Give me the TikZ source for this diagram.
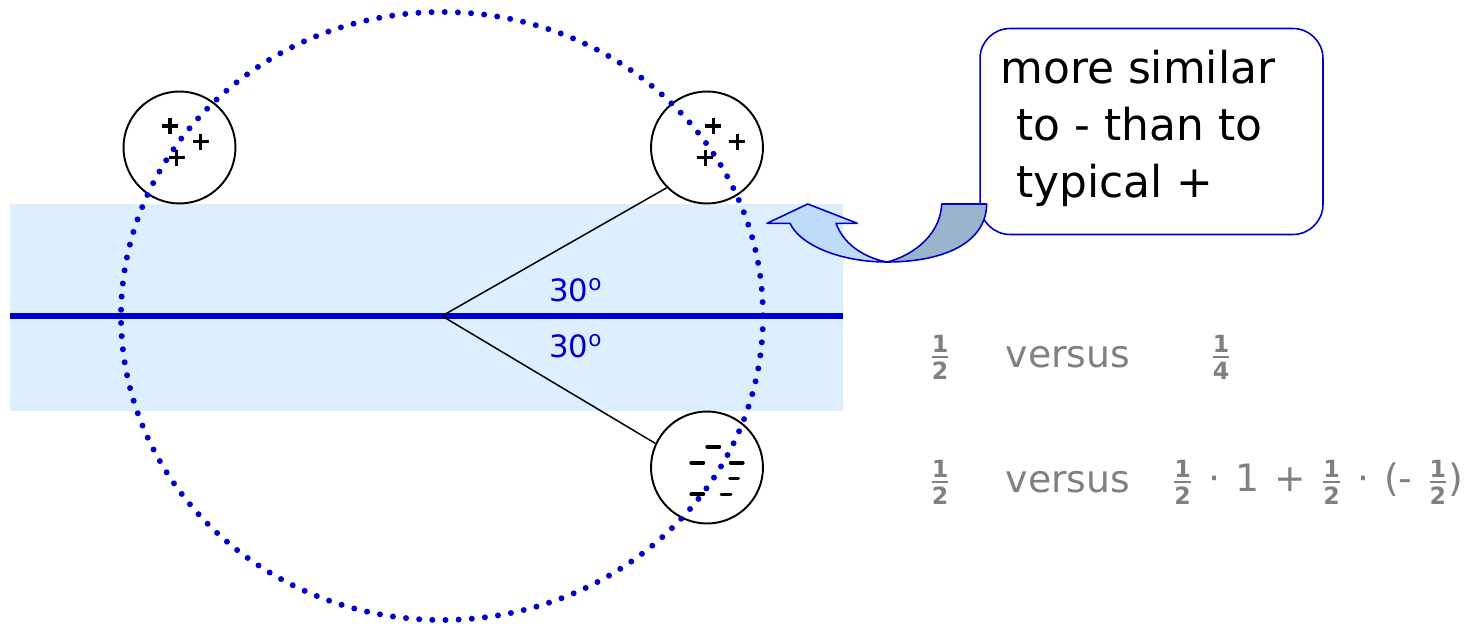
\documentclass[tikz,border=0pt]{standalone}
\usepackage{amsmath}
\usepackage{fontspec}
\setmainfont{DejaVu Sans}
\definecolor{dblue}{RGB}{0,0,204}
\definecolor{bandc}{RGB}{221,238,255}
\definecolor{arrlight}{RGB}{190,220,250}
\definecolor{arrgray}{RGB}{154,180,204}
\definecolor{txtgray}{RGB}{128,128,128}
\newcommand\frdig[1]{\mbox{\fontsize{13.5}{13.5}\selectfont\bfseries #1}}
\newcommand\fr[2]{\ensuremath{\genfrac{}{}{1.1pt}{1}{\frdig{#1}}{\frdig{#2}}}}
\newcommand\gsp{\hspace{0.4em}}
\tikzset{
  smallc/.style={circle, draw=black, line width=1.1pt, minimum size=2.24cm, inner sep=0pt},
  plussign/.style={draw=black, line width=1.9pt},
  minussign/.style={draw=black, line width=2.2pt, line cap=round},
  minussmall/.style={draw=black, line width=1.7pt, line cap=round},
  dotring/.style={draw=dblue, line width=3.4pt, line cap=round, dash pattern=on 0pt off 7.5pt},
  anglelab/.style={text=dblue, font=\fontsize{17.5}{17.5}\selectfont, inner sep=0pt, anchor=base west},
  calloutbox/.style={draw=dblue, fill=white, line width=0.9pt, rounded corners=0.6cm, minimum width=6.86cm, minimum height=4.12cm, inner sep=0pt},
  callouttext/.style={font=\fontsize{25}{25}\selectfont, inner sep=0pt, anchor=base west},
  graytext/.style={text=txtgray, font=\fontsize{21.5}{21.5}\selectfont, inner sep=0pt},
  arrowline/.style={draw=dblue, line width=0.9pt, line join=round},
}
\begin{document}
\begin{tikzpicture}[x=0.02cm, y=-0.02cm]
\useasboundingbox (0,0) rectangle (1468,624);
% band
\fill[bandc] (10,204) rectangle (843,411);
\coordinate (L) at (10,316);
\coordinate (R) at (843,316);
\coordinate (O) at (442,316);
\draw[dblue, line width=3.4pt] (L) -- (R);
% small circles
\node[smallc] (c1) at (179.5,147.5) {};
\node[smallc] (c2) at (707,147.5) {};
\node[smallc] (c3) at (707,467.5) {};
% angle lines
\draw[black, line width=0.85pt] (O) -- (c2.225);
\draw[black, line width=0.85pt] (O) -- (c3.155);
% plus signs
\foreach \px/\py in {170/126, 200.7/141.7, 176.7/157.7, 713.3/126, 737.3/141.7, 705.3/157.7}{
  \draw[plussign] (\px-8,\py) -- (\px+8,\py) (\px,\py-8) -- (\px,\py+8);
}
% minus signs
\foreach \px/\py/\h in {713.3/446.7/6, 697.3/462.7/6, 736.7/462.7/6, 697.3/494.3/6}{
  \draw[minussign] (\px-\h,\py) -- (\px+\h,\py);
}
\foreach \px/\py/\h in {734/478.3/4.5, 726/494.3/5}{
  \draw[minussmall] (\px-\h,\py) -- (\px+\h,\py);
}
% dotted ring
\draw[dotring] (O) ellipse [x radius=321, y radius=304];
% angle labels
\node[anglelab] (a1) at (549,302) {30\textsuperscript{o}};
\node[anglelab] (a2) at (549,358) {30\textsuperscript{o}};
% callout
\node[calloutbox] (cb) at (1151.5,131.5) {};
\node[callouttext] (t1) at (1000,84) {more similar};
\node[callouttext] (t2) at (1016,141) {to - than to};
\node[callouttext] (t3) at (1016,198) {typical +};
% curved arrow: back (gray) part
\draw[arrowline, fill=arrgray] (941.7,204) -- (986.7,204)
  .. controls (986,245) and (940,262) .. (887,262)
  .. controls (905,258) and (940,240) .. (941.7,204) -- cycle;
% front (light) part with head
\draw[arrowline, fill=arrlight] (807.7,204) -- (857.3,223.3) -- (836,223.3)
  .. controls (845,248) and (870,259) .. (887,262)
  .. controls (840,262) and (800,245) .. (790,223.3)
  -- (767,223.3) -- cycle;
% fractions
\node[graytext] (f1) at (940,357) {\fr{1}{2}};
\node[graytext] (v1) at (1068,357) {versus};
\node[graytext] (f2) at (1221,357) {\fr{1}{4}};
\node[graytext] (f3) at (940,482) {\fr{1}{2}};
\node[graytext] (v2) at (1068,482) {versus};
\node[graytext, anchor=west] (e1) at (1172,482) {\fr{1}{2}\gsp·\gsp1\gsp+\gsp\fr{1}{2}\gsp·\gsp(-\gsp\fr{1}{2})};
\end{tikzpicture}
\end{document}
